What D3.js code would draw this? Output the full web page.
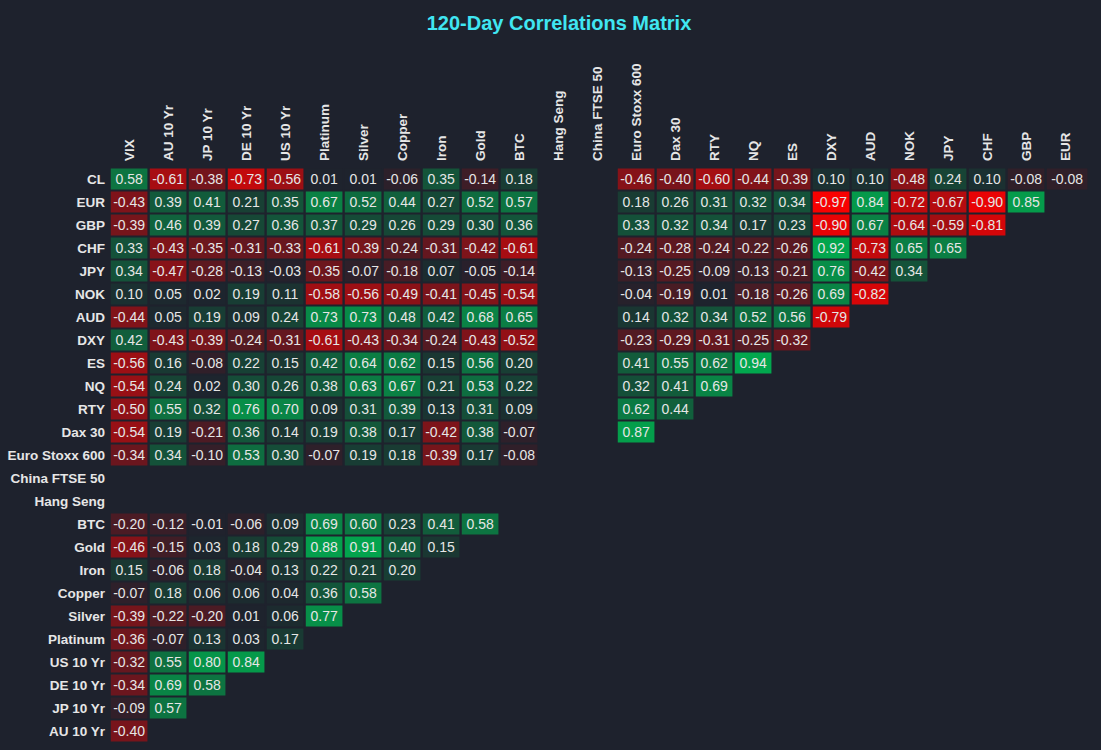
<!DOCTYPE html>
<html>
<head>
<meta charset="utf-8">
<script src="https://cdn.jsdelivr.net/npm/d3@7"></script>
<style>
    html, body { margin: 0; padding: 0; background: #1e222d; }
    svg { display: block; }
</style>
</head>
<body>
<svg id="chart" width="1101" height="750"></svg>
<script>
'use strict';

// row and column names of the matrix
var rows = ['CL', 'EUR', 'GBP', 'CHF', 'JPY', 'NOK', 'AUD', 'DXY', 'ES', 'NQ', 'RTY', 'Dax 30',
    'Euro Stoxx 600', 'China FTSE 50', 'Hang Seng', 'BTC', 'Gold', 'Iron', 'Copper', 'Silver',
    'Platinum', 'US 10 Yr', 'DE 10 Yr', 'JP 10 Yr', 'AU 10 Yr'];
var cols = ['VIX', 'AU 10 Yr', 'JP 10 Yr', 'DE 10 Yr', 'US 10 Yr', 'Platinum', 'Silver', 'Copper',
    'Iron', 'Gold', 'BTC', 'Hang Seng', 'China FTSE 50', 'Euro Stoxx 600', 'Dax 30', 'RTY', 'NQ',
    'ES', 'DXY', 'AUD', 'NOK', 'JPY', 'CHF', 'GBP', 'EUR'];

// one list per row, in column order (null = no data)
var cl = [0.58, -0.61, -0.38, -0.73, -0.56, 0.01, 0.01, -0.06, 0.35, -0.14, 0.18, null, null,
    -0.46, -0.40, -0.60, -0.44, -0.39, 0.10, 0.10, -0.48, 0.24, 0.10, -0.08, -0.08];
var eur = [-0.43, 0.39, 0.41, 0.21, 0.35, 0.67, 0.52, 0.44, 0.27, 0.52, 0.57, null, null,
    0.18, 0.26, 0.31, 0.32, 0.34, -0.97, 0.84, -0.72, -0.67, -0.90, 0.85];
var gbp = [-0.39, 0.46, 0.39, 0.27, 0.36, 0.37, 0.29, 0.26, 0.29, 0.30, 0.36, null, null,
    0.33, 0.32, 0.34, 0.17, 0.23, -0.90, 0.67, -0.64, -0.59, -0.81];
var chf = [0.33, -0.43, -0.35, -0.31, -0.33, -0.61, -0.39, -0.24, -0.31, -0.42, -0.61, null, null,
    -0.24, -0.28, -0.24, -0.22, -0.26, 0.92, -0.73, 0.65, 0.65];
var jpy = [0.34, -0.47, -0.28, -0.13, -0.03, -0.35, -0.07, -0.18, 0.07, -0.05, -0.14, null, null,
    -0.13, -0.25, -0.09, -0.13, -0.21, 0.76, -0.42, 0.34];
var nok = [0.10, 0.05, 0.02, 0.19, 0.11, -0.58, -0.56, -0.49, -0.41, -0.45, -0.54, null, null,
    -0.04, -0.19, 0.01, -0.18, -0.26, 0.69, -0.82];
var aud = [-0.44, 0.05, 0.19, 0.09, 0.24, 0.73, 0.73, 0.48, 0.42, 0.68, 0.65, null, null,
    0.14, 0.32, 0.34, 0.52, 0.56, -0.79];
var dxy = [0.42, -0.43, -0.39, -0.24, -0.31, -0.61, -0.43, -0.34, -0.24, -0.43, -0.52, null, null,
    -0.23, -0.29, -0.31, -0.25, -0.32];
var es = [-0.56, 0.16, -0.08, 0.22, 0.15, 0.42, 0.64, 0.62, 0.15, 0.56, 0.20, null, null,
    0.41, 0.55, 0.62, 0.94];
var nq = [-0.54, 0.24, 0.02, 0.30, 0.26, 0.38, 0.63, 0.67, 0.21, 0.53, 0.22, null, null,
    0.32, 0.41, 0.69];
var rty = [-0.50, 0.55, 0.32, 0.76, 0.70, 0.09, 0.31, 0.39, 0.13, 0.31, 0.09, null, null,
    0.62, 0.44];
var dax = [-0.54, 0.19, -0.21, 0.36, 0.14, 0.19, 0.38, 0.17, -0.42, 0.38, -0.07, null, null, 0.87];
var stoxx = [-0.34, 0.34, -0.10, 0.53, 0.30, -0.07, 0.19, 0.18, -0.39, 0.17, -0.08, null, null];
var china = [];
var hangSeng = [];
var btc = [-0.20, -0.12, -0.01, -0.06, 0.09, 0.69, 0.60, 0.23, 0.41, 0.58];
var gold = [-0.46, -0.15, 0.03, 0.18, 0.29, 0.88, 0.91, 0.40, 0.15];
var iron = [0.15, -0.06, 0.18, -0.04, 0.13, 0.22, 0.21, 0.20];
var copper = [-0.07, 0.18, 0.06, 0.06, 0.04, 0.36, 0.58];
var silver = [-0.39, -0.22, -0.20, 0.01, 0.06, 0.77];
var platinum = [-0.36, -0.07, 0.13, 0.03, 0.17];
var us10 = [-0.32, 0.55, 0.80, 0.84];
var de10 = [-0.34, 0.69, 0.58];
var jp10 = [-0.09, 0.57];
var au10 = [-0.40];

var rowValues = [cl, eur, gbp, chf, jpy, nok, aud, dxy, es, nq, rty, dax, stoxx, china, hangSeng,
    btc, gold, iron, copper, silver, platinum, us10, de10, jp10, au10];

(function(){

    var bg = '#1e222d';
    var svg = d3.select('#chart');

    var x = d3.scaleBand()
        .domain(cols)
        .range([109.6, 1084.6])
        .paddingInner(0.06)
        .paddingOuter(0.03);

    var y = d3.scaleBand()
        .domain(rows)
        .range([167.5, 742.5])
        .paddingInner(0.087)
        .paddingOuter(0.0435);

    var toRed = d3.interpolateRgb(bg, '#ff0000');
    var toGreen = d3.interpolateRgb(bg, '#00b050');
    var colour = function(v){
        return v < 0 ? toRed(-v) : toGreen(v);
    };

    var cells = [];
    rowValues.forEach(function(list, i){
        list.forEach(function(v, j){
            if(v !== null){
                cells.push({row: rows[i], col: cols[j], value: v});
            }
        });
    });

    svg.append('text')
        .attr('x', 559)
        .attr('y', 30)
        .attr('text-anchor', 'middle')
        .style('font-family', '"Liberation Sans", Arial, sans-serif')
        .style('font-weight', 'bold')
        .style('font-size', '20px')
        .style('fill', '#40e6f2')
        .text('120-Day Correlations Matrix');

    var lastCol = cols[cols.length - 1];

    var g = svg.append('g');

    g.selectAll('rect')
        .data(cells)
        .enter()
        .append('rect')
        .attr('x', function(d){ return x(d.col); })
        .attr('y', function(d){ return y(d.row); })
        .attr('width', function(d){ return x.bandwidth() + (d.col === lastCol ? 4 : 0); })
        .attr('height', y.bandwidth())
        .style('fill', function(d){ return colour(d.value); });

    g.selectAll('text.val')
        .data(cells)
        .enter()
        .append('text')
        .attr('class', 'val')
        .attr('x', function(d){ return x(d.col) + x.bandwidth() / 2 + (d.col === lastCol ? 2 : 0); })
        .attr('y', function(d){ return y(d.row) + y.bandwidth() / 2; })
        .attr('dy', '0.36em')
        .attr('text-anchor', 'middle')
        .style('font-family', '"Liberation Sans Narrow", "Arial Narrow", sans-serif')
        .style('font-size', '14px')
        .style('fill', '#e6e6e6')
        .text(function(d){ return d.value.toFixed(2); });

    svg.append('g')
        .selectAll('text')
        .data(rows)
        .enter()
        .append('text')
        .attr('x', 105)
        .attr('y', function(d){ return y(d) + y.bandwidth() / 2; })
        .attr('dy', '0.36em')
        .attr('text-anchor', 'end')
        .style('font-family', '"Liberation Sans Narrow", "Arial Narrow", sans-serif')
        .style('font-weight', 'bold')
        .style('font-size', '13.5px')
        .style('fill', '#e6e6e6')
        .text(function(d){ return d; });

    svg.append('g')
        .selectAll('text')
        .data(cols)
        .enter()
        .append('text')
        .attr('transform', function(d){
            return 'translate(' + (x(d) + x.bandwidth() / 2 + 5) + ',161) rotate(-90)';
        })
        .attr('text-anchor', 'start')
        .style('font-family', '"Liberation Sans Narrow", "Arial Narrow", sans-serif')
        .style('font-weight', 'bold')
        .style('font-size', '13.5px')
        .style('fill', '#e6e6e6')
        .text(function(d){ return d; });

})();
</script>
</body>
</html>
